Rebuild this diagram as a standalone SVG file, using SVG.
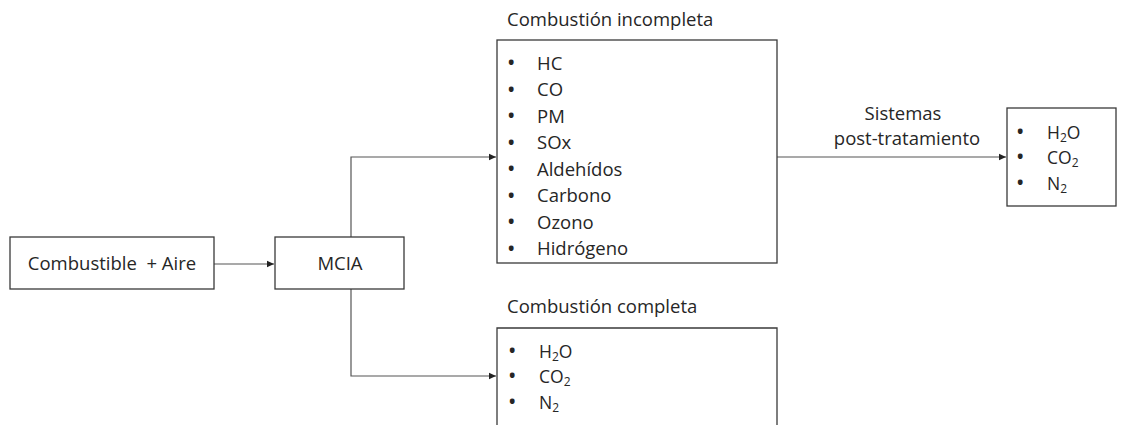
<svg xmlns="http://www.w3.org/2000/svg" width="1126" height="425" viewBox="0 0 1126 425">
<defs>
<style>
.box{fill:#fff;stroke:#3a3a3a;stroke-width:1.3}
.t{font-family:"Open Sans","Liberation Sans",sans-serif;font-size:18.5px;fill:#262626}
.s{font-size:17.5px}
.b{font-weight:bold;font-size:17px}
.c{stroke:#555;stroke-width:1.2;fill:none}
.sub{font-size:12px}
</style>
<marker id="ah" markerWidth="8" markerHeight="8" refX="7" refY="4" orient="auto" markerUnits="userSpaceOnUse">
<path d="M0,0.8 L7,4 L0,7.2 z" fill="#222"/>
</marker>
</defs>
<rect width="1126" height="425" fill="#fff"/>
<g id="connectors">
<line class="c" x1="214" y1="264" x2="274" y2="264" marker-end="url(#ah)"/>
<polyline class="c" points="351,237 351,157 496,157" marker-end="url(#ah)"/>
<polyline class="c" points="351,289 351,376 496,376" marker-end="url(#ah)"/>
<line class="c" x1="777" y1="157" x2="1006" y2="157" marker-end="url(#ah)"/>
<text class="t" x="903" y="120" text-anchor="middle">Sistemas</text>
<text class="t" x="907" y="145" text-anchor="middle">post-tratamiento</text>
</g>
<g id="n-comb">
<rect class="box" x="10" y="237" width="204" height="52"/>
<text class="t" x="112" y="270" text-anchor="middle" xml:space="preserve">Combustible  + Aire</text>
</g>
<g id="n-mcia">
<rect class="box" x="275" y="237" width="129" height="52"/>
<text class="t" x="340" y="270" text-anchor="middle">MCIA</text>
</g>
<g id="n-incompleta">
<text class="t" x="507" y="26">Combustión incompleta</text>
<rect class="box" x="497" y="40" width="280" height="223"/>
<g class="t">
<text class="b" x="508" y="69">•</text><text x="537" y="69.5">HC</text>
<text class="b" x="508" y="95.5">•</text><text x="537" y="96">CO</text>
<text class="b" x="508" y="122">•</text><text x="537" y="122.5">PM</text>
<text class="b" x="508" y="148.5">•</text><text x="537" y="149">SOx</text>
<text class="b" x="508" y="175">•</text><text x="537" y="175.5">Aldehídos</text>
<text class="b" x="508" y="201.5">•</text><text x="537" y="202">Carbono</text>
<text class="b" x="508" y="228">•</text><text x="537" y="228.5">Ozono</text>
<text class="b" x="508" y="254.5">•</text><text x="537" y="255">Hidrógeno</text>
</g>
</g>
<g id="n-post">
<rect class="box" x="1007" y="108" width="109" height="98"/>
<g class="t">
<text class="b" x="1017" y="138">•</text><text class="s" x="1047" y="138.5">H<tspan class="sub" dy="3">2</tspan><tspan dy="-3">O</tspan></text>
<text class="b" x="1017" y="163">•</text><text class="s" x="1047" y="163.5">CO<tspan class="sub" dy="3">2</tspan></text>
<text class="b" x="1017" y="189">•</text><text class="s" x="1047" y="189.5">N<tspan class="sub" dy="3">2</tspan></text>
</g>
</g>
<g id="n-completa">
<text class="t" x="507" y="313">Combustión completa</text>
<path class="box" d="M497,426 L497,328 L777,328 L777,426"/>
<g class="t">
<text class="b" x="509" y="357">•</text><text class="s" x="539" y="357.5">H<tspan class="sub" dy="3">2</tspan><tspan dy="-3">O</tspan></text>
<text class="b" x="509" y="382">•</text><text class="s" x="539" y="382.5">CO<tspan class="sub" dy="3">2</tspan></text>
<text class="b" x="509" y="408">•</text><text class="s" x="539" y="408.5">N<tspan class="sub" dy="3">2</tspan></text>
</g>
</g>
</svg>
